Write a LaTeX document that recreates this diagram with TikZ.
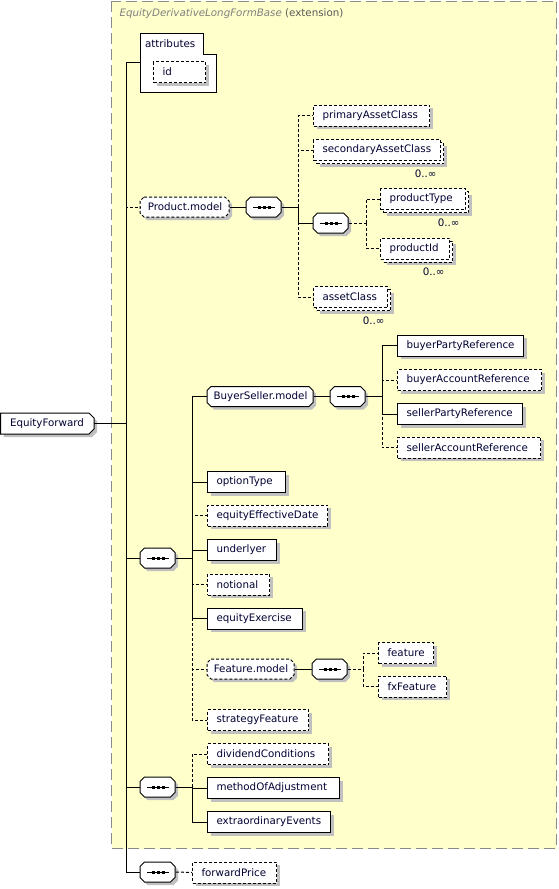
\documentclass[tikz,border=0pt]{standalone}
\usepackage{fontspec}
\setmainfont{DejaVu Sans}
\usetikzlibrary{shadows}
\definecolor{extfill}{HTML}{FFFFCC}
\definecolor{extborder}{HTML}{8A8A8A}
\definecolor{shadowc}{HTML}{C0C0C0}
\definecolor{txt}{HTML}{000033}
\definecolor{titlegray}{HTML}{808080}
\definecolor{extgray}{HTML}{5A5A5A}
% octagonal (chamfered) outline + named text node
\newcommand{\octp}{(\oxa+\oc,\oya) -- (\oxb-\oc,\oya) -- (\oxb,\oya+\oc) -- (\oxb,\oyb-\oc) -- (\oxb-\oc,\oyb) -- (\oxa+\oc,\oyb) -- (\oxa,\oyb-\oc) -- (\oxa,\oya+\oc) -- cycle}
\newcommand{\octo}[8][]{%
  \pgfmathsetmacro\oxa{#3}\pgfmathsetmacro\oxb{#3+#5}%
  \pgfmathsetmacro\oya{#4-#6/2}\pgfmathsetmacro\oyb{#4+#6/2}\def\oc{#7}%
  \fill[shadowc, shift={(3,3)}] \octp;
  \draw[fill=white, #1] \octp;
  \node[inner sep=0pt, minimum width=#5, minimum height=#6, anchor=west] (#2) at (#3,#4) {#8};}
\newcommand{\seqmark}[1]{%
  \draw ([xshift=-11pt]#1.center) -- ([xshift=11pt]#1.center);
  \foreach \dx in {-5,0,5}{\fill ([xshift=\dx pt]#1.center) +(-1.5,-1.5) rectangle +(1.5,1.5);}}
\newcommand{\seqn}[3]{\octo{#1}{#2}{#3}{35}{20}{4.5}{}\seqmark{#1}}
\begin{document}
\begin{tikzpicture}[x=1pt,y=-1pt, line width=1pt,
  font=\fontsize{10.3}{12}\selectfont, text=txt,
  shadowed/.style={general shadow={fill=shadowc, draw=none, shadow xshift=3pt, shadow yshift=-3pt}},
  multishadow/.style={general shadow={fill=shadowc, draw=none, shadow xshift=6pt, shadow yshift=-6pt},
                      general shadow={fill=white, draw=black, opt, shadow xshift=3pt, shadow yshift=-3pt}},
  opt/.style={dash pattern=on 3pt off 2pt},
  elbase/.style={draw, fill=white, rectangle, anchor=west, minimum height=21pt,
                 inner xsep=9pt, inner ysep=0pt, text width=#1, align=left},
  el/.style={elbase=#1, shadowed},
  elm/.style={elbase=#1, multishadow, opt},
  mult/.style={anchor=east, inner sep=0pt}
]
\useasboundingbox (0,0) rectangle (558,889);

% extension area
\fill[extfill] (111.5,1) rectangle (556.5,848.5);
\draw[extborder, dash pattern=on 11pt off 5pt] (111.5,1) rectangle (556.5,848.5);
\node[anchor=west, inner sep=0pt, text=titlegray] (title) at (119,14)
  {\textit{EquityDerivativeLongFormBase} \textcolor{extgray}{(extension)}};

% attributes
\draw[fill=white] (140,33.5) -- (203,33.5) -- (203,54) -- (216,54) -- (216,92) -- (140,92) -- cycle;
\node[anchor=west, inner sep=0pt] (attrlabel) at (144.5,43.5) {attributes};
\coordinate (attrw) at (140,62);
\node[el=34pt, opt] (id) at (153,72) {id};

% root
\fill[shadowc] (3.5,416) -- (92,416) -- (97,421) -- (97,432) -- (92,437) -- (3.5,437) -- cycle;
\draw[fill=white] (0.5,413) -- (89,413) -- (94,418) -- (94,429) -- (89,434) -- (0.5,434) -- cycle;
\node[inner sep=0pt, minimum width=92pt, minimum height=21pt, anchor=west] (ef) at (0.5,423.5) {EquityForward};

% Product.model group
\octo[opt]{pm}{140}{207}{89}{20}{4}{Product.model}
\seqn{s1}{246}{207}
\node[el=98pt, opt] (pac) at (313,115.5) {primaryAssetClass};
\node[elm=109pt] (sac) at (313,150) {secondaryAssetClass};
\seqn{s2}{313}{223}
\node[elm=67pt] (pt) at (380,199) {productType};
\node[elm=51pt] (pid) at (380,248.5) {productId};
\node[elm=56pt] (ac) at (313,297) {assetClass};
\node[mult] (m1) at ([shift={(-4,12.5)}]sac.south east) {0..∞};
\node[mult] (m2) at ([shift={(-6,12.5)}]pt.south east) {0..∞};
\node[mult] (m3) at ([shift={(-5,12)}]pid.south east) {0..∞};
\node[mult] (m4) at ([shift={(-3,12.5)}]ac.south east) {0..∞};

% main sequence
\seqn{s4}{140}{558}
\octo{bsm}{207}{396.5}{106}{20}{4}{BuyerSeller.model}
\seqn{s3}{330}{396.5}
\node[el=108pt] (bpr) at (397,345.5) {buyerPartyReference};
\node[el=126pt, opt] (bar) at (397,380) {buyerAccountReference};
\node[el=107pt] (spr) at (397,414) {sellerPartyReference};
\node[el=125pt, opt] (sar) at (397,447.5) {sellerAccountReference};
\node[el=60pt] (ot) at (207,482) {optionType};
\node[el=102pt, opt] (eed) at (207,515.5) {equityEffectiveDate};
\node[el=51pt] (und) at (207,550) {underlyer};
\node[el=44pt, opt] (not) at (207,584.5) {notional};
\node[el=77pt] (eex) at (207,618.5) {equityExercise};
\octo[opt]{fm}{207}{669}{87}{20}{4}{Feature.model}
\seqn{s5}{312}{669}
\node[el=37pt, opt] (feat) at (378,653) {feature};
\node[el=50pt, opt] (fxf) at (378,686.5) {fxFeature};
\node[el=83pt, opt] (sf) at (207,720) {strategyFeature};

% adjustment sequence
\seqn{s6}{140}{787}
\node[el=103pt, opt] (dc) at (207,754) {dividendConditions};
\node[el=114pt] (moa) at (207,788) {methodOfAdjustment};
\node[el=105pt] (eev) at (207,822) {extraordinaryEvents};

% forward price
\seqn{s7}{140}{872}
\node[el=66pt, opt] (fp) at (192,872.5) {forwardPrice};

% junctions
\coordinate (mj) at (126,423.5);
\coordinate (j1) at (298,207);
\coordinate (j2) at (366,223);
\coordinate (j3) at (382,396.5);
\coordinate (j4) at (192,558);
\coordinate (j5) at (363,669);
\coordinate (j6) at (192,787);

% connectors
\draw (ef.east) -- (mj);
\draw (mj) |- (attrw);
\draw[opt] (mj) |- (pm.west);
\draw (mj) |- (s4.west);
\draw (mj) |- (s6.west);
\draw (mj) |- (s7.west);

\draw (pm.east) -- (s1.west);
\draw (s1.east) -- (j1);
\draw[opt] (j1) |- (pac.west);
\draw[opt] (j1) |- (sac.west);
\draw[opt] (j1) |- (ac.west);
\draw (j1) |- (s2.west);
\draw[opt] (s2.east) -- (j2);
\draw[opt] (j2) |- (pt.west);
\draw[opt] (j2) |- (pid.west);

\draw (s4.east) -- (j4);
\draw[opt] (j4) |- (eed.west);
\draw[opt] (j4) |- (not.west);
\draw[opt] (j4) |- (fm.west);
\draw[opt] (j4) |- (sf.west);
\draw (j4) |- (bsm.west);
\draw (j4) |- (ot.west);
\draw (j4) |- (und.west);
\draw (j4) |- (eex.west);

\draw (bsm.east) -- (s3.west);
\draw (s3.east) -- (j3);
\draw[opt] (j3) |- (bar.west);
\draw[opt] (j3) |- (sar.west);
\draw (j3) |- (bpr.west);
\draw (j3) |- (spr.west);

\draw (fm.east) -- (s5.west);
\draw[opt] (s5.east) -- (j5);
\draw[opt] (j5) |- (feat.west);
\draw[opt] (j5) |- (fxf.west);

\draw (s6.east) -- (j6);
\draw[opt] (j6) |- (dc.west);
\draw (j6) |- (moa.west);
\draw (j6) |- (eev.west);

\draw[opt] (s7.east) -- (fp.west);
\end{tikzpicture}
\end{document}
